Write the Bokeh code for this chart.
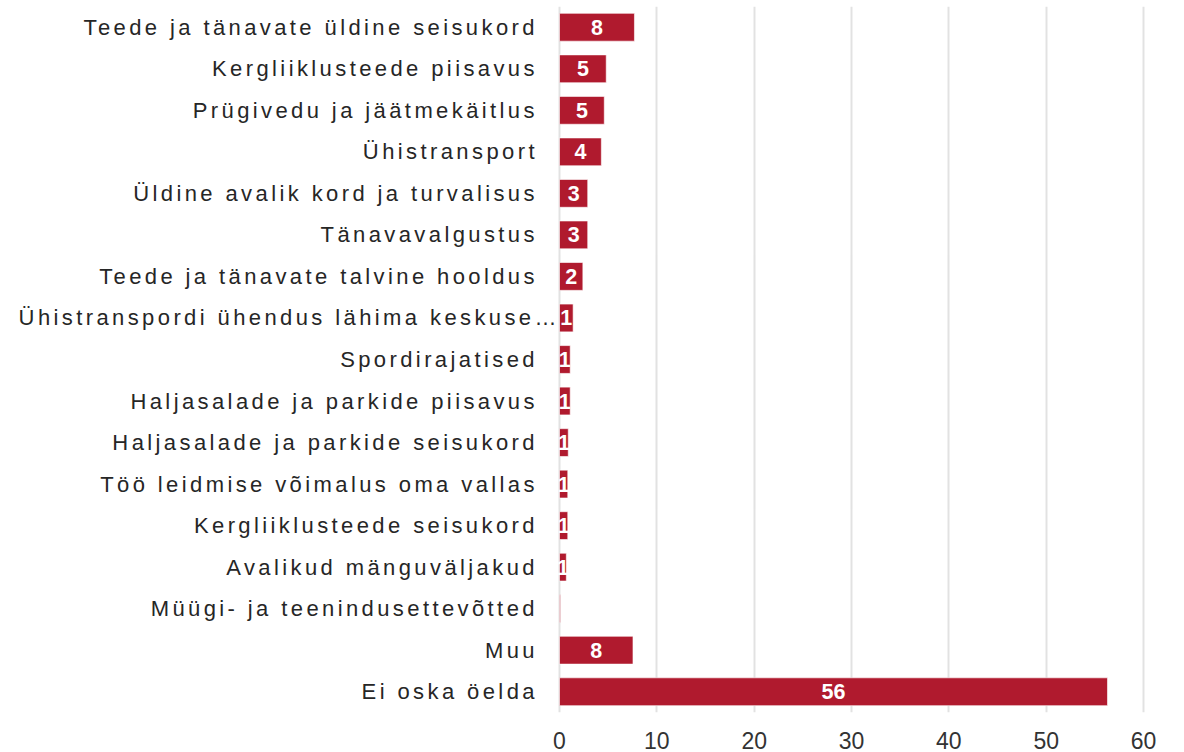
from bokeh.plotting import figure
from bokeh.models import ColumnDataSource, Range1d, FixedTicker, CustomJS
from bokeh.core.properties import value
from bokeh.io import curdoc
from bokeh.embed import file_html
from bokeh.resources import INLINE

categories = [
    "Teede ja tänavate üldine seisukord",
    "Kergliiklusteede piisavus",
    "Prügivedu ja jäätmekäitlus",
    "Ühistransport",
    "Üldine avalik kord ja turvalisus",
    "Tänavavalgustus",
    "Teede ja tänavate talvine hooldus",
    "Ühistranspordi ühendus lähima keskuse…",
    "Spordirajatised",
    "Haljasalade ja parkide piisavus",
    "Haljasalade ja parkide seisukord",
    "Töö leidmise võimalus oma vallas",
    "Kergliiklusteede seisukord",
    "Avalikud mänguväljakud",
    "Müügi- ja teenindusettevõtted",
    "Muu",
    "Ei oska öelda",
]
values = [7.7, 4.8, 4.6, 4.3, 2.9, 2.9, 2.4, 1.4, 1.1, 1.1, 0.9, 0.85, 0.85, 0.7, 0.1, 7.55, 56.3]
x_ticks = [0, 10, 20, 30, 40, 50, 60]

LETTER_SPACING = 3.4
GAP = 25
GAP_TRUNCATED = 3

labels = [str(int(v + 0.5)) if int(v + 0.5) > 0 else "" for v in values]

source = ColumnDataSource(dict(
    cat=categories,
    val=values,
    mid=[v / 2 for v in values],
    lab=labels,
    zero=[0] * len(values),
    xoff=[-(GAP_TRUNCATED if c.endswith("…") else GAP) - (len(c) - 1) * LETTER_SPACING
          for c in categories],
))

# frame spans the whole width; value 0 sits at 559px, 60 at 1143px
PX_PER_UNIT = (1143 - 559) / 60.0
p = figure(
    width=1176, height=752,
    y_range=list(reversed(categories)),
    x_range=Range1d(-559 / PX_PER_UNIT, (1174 - 559) / PX_PER_UNIT),
    output_backend="svg", toolbar_location=None,
    min_border_left=0, min_border_top=6, min_border_right=2, min_border_bottom=40,
)
p.outline_line_color = None

p.hbar(y="cat", right="val", left=0, height=0.67, source=source,
       fill_color="#B01A2E", line_color="white", line_alpha=0.6, line_width=1)
p.text(x="mid", y="cat", text="lab", source=source,
       text_color="white", text_font=value("Liberation Sans"), text_font_style="bold",
       text_font_size="21.5px", text_align="center", text_baseline="middle")
p.text(x="zero", y="cat", text="cat", x_offset="xoff", source=source,
       text_align="right", text_baseline="middle",
       text_font=value("Liberation Sans"), text_font_size="22px",
       text_color="#262626")

p.xaxis.ticker = FixedTicker(ticks=x_ticks)
p.xaxis.axis_line_color = None
p.xaxis.major_tick_line_color = None
p.xaxis.minor_tick_line_color = None
p.xaxis.major_tick_out = 0
p.xaxis.major_label_standoff = 19
p.xaxis.major_label_text_font = "Liberation Sans"
p.xaxis.major_label_text_font_size = "23px"
p.xaxis.major_label_text_color = "#333333"

p.yaxis.visible = False

p.ygrid.grid_line_color = None
p.xgrid.grid_line_color = "#e2e2e2"
p.xgrid.grid_line_width = 2
p.xgrid.ticker = FixedTicker(ticks=x_ticks)

js = """
const css = 'text[font-size="22px"]{letter-spacing:%spx;}';
function inject(root){
  for (const el of root.querySelectorAll('*')) {
    if (el.shadowRoot) {
      const sr = el.shadowRoot;
      if (!sr.querySelector('style[data-ls]')) {
        const s = document.createElement('style');
        s.setAttribute('data-ls', '1');
        s.textContent = css;
        sr.appendChild(s);
      }
      inject(sr);
    }
  }
}
inject(document);
for (const t of [0, 30, 100, 300, 800]) setTimeout(() => inject(document), t);
""" % LETTER_SPACING
doc = curdoc()
doc.add_root(p)
doc.js_on_event("document_ready", CustomJS(code=js))

open("out.html", "w").write(file_html(p, INLINE))
